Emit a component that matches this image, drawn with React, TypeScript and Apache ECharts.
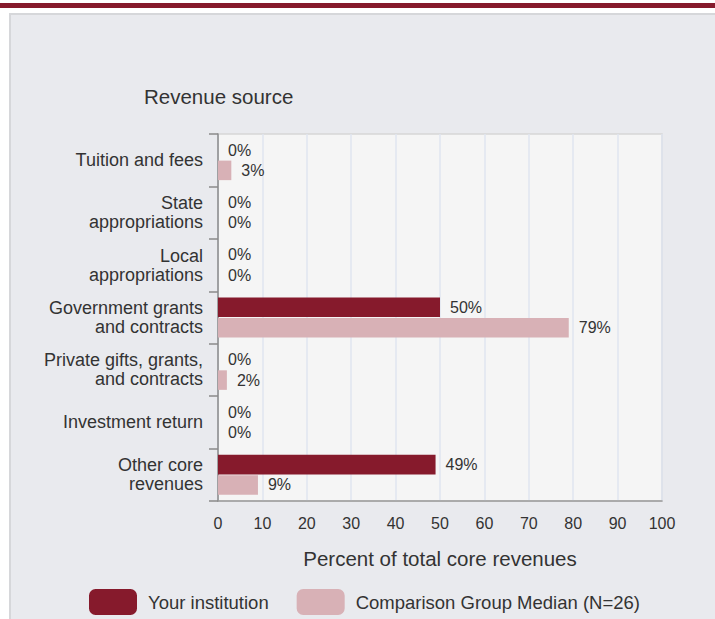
import React, { useEffect, useRef } from "react";
import * as echarts from "echarts";

const categories = [
  "Tuition and fees",
  "State\nappropriations",
  "Local\nappropriations",
  "Government grants\nand contracts",
  "Private gifts, grants,\nand contracts",
  "Investment return",
  "Other core\nrevenues",
];
const yourInstitution = [0, 0, 0, 50, 0, 0, 49];
const comparisonMedian = [3, 0, 0, 79, 2, 0, 9];
const xTicks = { min: 0, max: 100, interval: 10 };
const seriesNames = ["Your institution", "Comparison Group Median (N=26)"];

const FONT = "'Liberation Sans', Arial, sans-serif";
const TEXT = "#333333";
const MAROON = "#861a2c";
const PINK = "#d8b1b6";

export default function App() {
  const ref = useRef<HTMLDivElement>(null);

  useEffect(() => {
    if (!ref.current) return;
    const chart = echarts.init(ref.current, undefined, { renderer: "svg" });
    const valueLabel = {
      show: true,
      position: "right",
      distance: 10,
      formatter: "{c}%",
      color: TEXT,
      fontSize: 16,
      fontFamily: FONT,
    };
    chart.setOption({
      animation: false,
      textStyle: { fontFamily: FONT },
      graphic: [
        {
          type: "text",
          left: 144,
          top: 86,
          style: {
            text: "Revenue source",
            fontSize: 20.5,
            fontFamily: FONT,
            fill: TEXT,
          },
        },
      ],
      grid: {
        left: 218,
        top: 134,
        width: 444,
        height: 367,
        show: true,
        backgroundColor: "#f5f5f5",
        borderColor: "#d6d6d6",
        borderWidth: 1.5,
      },
      legend: {
        left: 84,
        top: 584,
        itemWidth: 48,
        itemHeight: 26,
        itemGap: 28,
        icon: "roundRect",
        textStyle: { color: TEXT, fontSize: 18.5, fontFamily: FONT, padding: [0, 0, 0, 6] },
        data: seriesNames,
      },
      xAxis: {
        type: "value",
        min: xTicks.min,
        max: xTicks.max,
        interval: xTicks.interval,
        name: "Percent of total core revenues",
        nameLocation: "middle",
        nameGap: 47,
        nameTextStyle: { color: TEXT, fontSize: 20.5, fontFamily: FONT },
        axisLine: { show: true, lineStyle: { color: "#9a9a9a", width: 1.5 } },
        axisTick: { show: false },
        axisLabel: { color: TEXT, fontSize: 16, fontFamily: FONT, margin: 14 },
        splitLine: { show: true, lineStyle: { color: "#dfe4ef", width: 1.5 } },
      },
      yAxis: {
        type: "category",
        data: categories,
        inverse: true,
        axisLine: { show: true, lineStyle: { color: "#8a8a8a", width: 1.5 } },
        axisTick: { show: true, length: 9, lineStyle: { color: "#8a8a8a", width: 1.5 } },
        axisLabel: {
          color: TEXT,
          fontSize: 18,
          lineHeight: 19,
          fontFamily: FONT,
          margin: 15,
          align: "right",
        },
        splitLine: { show: false },
      },
      series: [
        {
          name: seriesNames[0],
          type: "bar",
          data: yourInstitution,
          itemStyle: { color: MAROON },
          barGap: "4%",
          barCategoryGap: "24%",
          label: valueLabel,
        },
        {
          name: seriesNames[1],
          type: "bar",
          data: comparisonMedian,
          itemStyle: { color: PINK },
          barGap: "4%",
          barCategoryGap: "24%",
          label: valueLabel,
        },
      ],
    });
    return () => chart.dispose();
  }, []);

  return (
    <div style={{ position: "fixed", left: 0, top: 0, width: 715, height: 619, background: "#ffffff", overflow: "hidden" }}>
      <div style={{ position: "absolute", left: 0, top: 3, width: 715, height: 5, background: MAROON }} />
      <div
        style={{
          position: "absolute",
          left: 9,
          top: 13,
          width: 720,
          height: 620,
          background: "#e9eaee",
          border: "2px solid #d6d7da",
          boxSizing: "border-box",
        }}
      />
      <div ref={ref} style={{ position: "absolute", left: 0, top: 0, width: 715, height: 619 }} />
    </div>
  );
}
